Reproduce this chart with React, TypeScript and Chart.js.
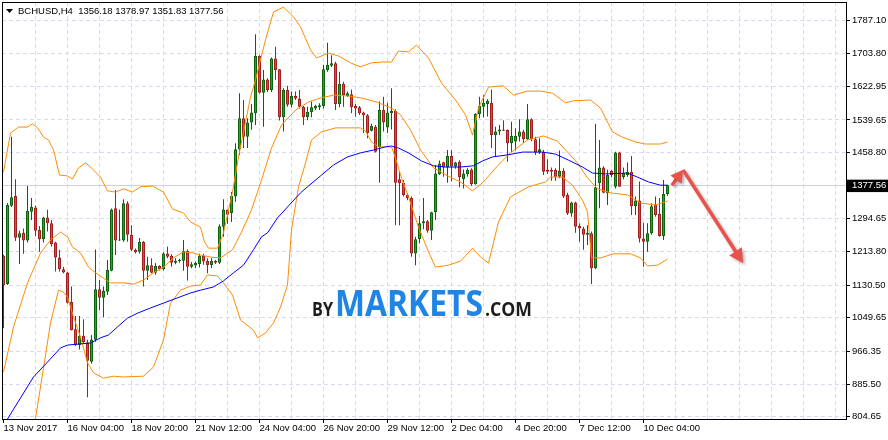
import React, { useEffect, useRef } from 'react';
import { Chart, registerables } from 'chart.js';

Chart.register(...registerables);

// ---------- data ----------
const symbolTitle = 'BCHUSD,H4';
const lastOHLC = ['1356.18', '1378.97', '1351.83', '1377.56'];
const currentPrice = 1377.56;

const opens = [
  1203, 1133, 1327, 1351, 1248, 1260, 1241, 1312, 1323, 1267,
  1244, 1298, 1284, 1236, 1199, 1170, 1162, 1089, 1021, 982,
  1005, 989, 941, 995, 1120, 1099, 1114, 1166, 1321, 1241,
  1241, 1333, 1255, 1218, 1213, 1237, 1166, 1180, 1161, 1178,
  1170, 1209, 1203, 1186, 1190, 1191, 1215, 1176, 1179, 1183,
  1203, 1190, 1180, 1191, 1186, 1275, 1317, 1309, 1350, 1467,
  1544, 1498, 1533, 1556, 1698, 1607, 1640, 1614, 1692, 1665,
  1546, 1614, 1577, 1599, 1593, 1572, 1546, 1559, 1568, 1571,
  1574, 1663, 1674, 1680, 1579, 1629, 1599, 1603, 1574, 1571,
  1558, 1551, 1513, 1523, 1472, 1564, 1521, 1556, 1562, 1393,
  1384, 1354, 1346, 1209, 1244, 1284, 1289, 1265, 1311, 1405,
  1435, 1422, 1450, 1424, 1436, 1393, 1405, 1417, 1381, 1554,
  1572, 1579, 1582, 1502, 1511, 1516, 1515, 1482, 1486, 1498,
  1511, 1492, 1541, 1492, 1459, 1461, 1417, 1416, 1416, 1399,
  1414, 1354, 1308, 1335, 1277, 1271, 1255, 1259, 1172, 1383,
  1422, 1358, 1414, 1374, 1459, 1398, 1403, 1411, 1326, 1340,
  1246, 1238, 1259, 1329, 1307, 1252, 1356.18,
];
const highs = [
  1206, 1334, 1498, 1393, 1265, 1271, 1376, 1346, 1327, 1277,
  1300, 1317, 1292, 1238, 1218, 1176, 1163, 1127, 1054, 1054,
  1046, 995, 1007, 1219, 1143, 1127, 1193, 1320, 1366, 1318,
  1343, 1338, 1279, 1221, 1247, 1240, 1201, 1197, 1185, 1180,
  1212, 1226, 1207, 1197, 1196, 1242, 1219, 1188, 1189, 1208,
  1208, 1197, 1197, 1193, 1281, 1343, 1318, 1361, 1482, 1606,
  1589, 1544, 1579, 1752, 1700, 1663, 1643, 1694, 1721, 1666,
  1618, 1624, 1610, 1610, 1614, 1574, 1572, 1585, 1577, 1581,
  1676, 1731, 1700, 1684, 1659, 1634, 1610, 1615, 1579, 1574,
  1560, 1554, 1530, 1527, 1585, 1597, 1582, 1618, 1566, 1411,
  1391, 1358, 1350, 1250, 1302, 1346, 1292, 1312, 1428, 1439,
  1436, 1465, 1465, 1436, 1440, 1417, 1420, 1420, 1556, 1597,
  1601, 1591, 1615, 1523, 1527, 1539, 1516, 1535, 1519, 1541,
  1515, 1579, 1544, 1498, 1494, 1465, 1442, 1422, 1420, 1464,
  1420, 1359, 1337, 1337, 1284, 1275, 1279, 1263, 1530, 1490,
  1425, 1416, 1416, 1461, 1461, 1422, 1434, 1450, 1350, 1387,
  1285, 1284, 1333, 1350, 1346, 1391, 1378.97,
];
const lows = [
  1024, 1131, 1324, 1240, 1183, 1208, 1236, 1292, 1252, 1213,
  1236, 1263, 1226, 1164, 1164, 1160, 1085, 1018, 980, 971,
  986, 853, 936, 990, 1069, 1051, 1106, 1165, 1205, 1240,
  1238, 1238, 1215, 1209, 1209, 1127, 1143, 1160, 1156, 1167,
  1167, 1197, 1176, 1182, 1186, 1166, 1142, 1172, 1173, 1174,
  1181, 1160, 1173, 1183, 1183, 1250, 1282, 1287, 1337, 1453,
  1470, 1470, 1515, 1527, 1605, 1523, 1609, 1609, 1639, 1538,
  1511, 1572, 1571, 1589, 1568, 1527, 1539, 1546, 1564, 1564,
  1568, 1659, 1671, 1564, 1571, 1572, 1597, 1556, 1548, 1552,
  1507, 1494, 1511, 1459, 1384, 1511, 1507, 1516, 1279, 1279,
  1350, 1341, 1201, 1180, 1234, 1269, 1260, 1242, 1292, 1403,
  1399, 1384, 1387, 1419, 1373, 1370, 1399, 1376, 1379, 1544,
  1546, 1548, 1470, 1450, 1502, 1512, 1436, 1461, 1464, 1486,
  1483, 1490, 1487, 1453, 1455, 1403, 1406, 1389, 1389, 1395,
  1346, 1304, 1300, 1260, 1238, 1218, 1230, 1133, 1170, 1321,
  1358, 1329, 1398, 1370, 1374, 1393, 1399, 1304, 1304, 1236,
  1176, 1213, 1255, 1300, 1250, 1242, 1351.83,
];
const closes = [
  1131, 1329, 1348, 1248, 1259, 1241, 1314, 1324, 1265, 1244,
  1298, 1284, 1232, 1199, 1170, 1162, 1087, 1019, 982, 1005,
  989, 943, 996, 1120, 1099, 1116, 1168, 1318, 1241, 1243,
  1333, 1255, 1218, 1212, 1237, 1166, 1180, 1161, 1178, 1170,
  1209, 1201, 1186, 1190, 1193, 1215, 1176, 1182, 1185, 1203,
  1189, 1180, 1191, 1186, 1276, 1318, 1305, 1351, 1467, 1544,
  1498, 1533, 1558, 1698, 1607, 1640, 1614, 1692, 1663, 1546,
  1614, 1577, 1599, 1593, 1572, 1546, 1559, 1571, 1574, 1576,
  1665, 1676, 1680, 1579, 1629, 1601, 1606, 1571, 1568, 1556,
  1551, 1507, 1525, 1461, 1564, 1533, 1558, 1562, 1384, 1383,
  1354, 1346, 1209, 1244, 1284, 1289, 1265, 1311, 1407, 1432,
  1422, 1450, 1424, 1434, 1398, 1407, 1416, 1381, 1554, 1574,
  1582, 1587, 1502, 1511, 1516, 1513, 1482, 1500, 1500, 1511,
  1492, 1541, 1492, 1459, 1467, 1411, 1411, 1411, 1399, 1414,
  1350, 1308, 1335, 1275, 1271, 1255, 1260, 1172, 1373, 1422,
  1359, 1403, 1403, 1459, 1374, 1409, 1411, 1326, 1340, 1246,
  1238, 1259, 1326, 1304, 1252, 1356.18, 1377.56,
];

// Bollinger upper band (bar index, price)
const upperIdx = [0, 1.75, 3.75, 6, 7.25, 8.5, 10, 11.25, 12.5, 14, 16, 17.25, 18.75, 20.5, 21.75, 24.25, 26, 28, 30, 32.25, 34.25, 37.25, 40, 42.25, 45, 46.75, 49.25, 50.25, 51.25, 53.5, 55, 57.25, 58.75, 61.75, 63, 65.5, 67.5, 70, 72.5, 74.25, 76.75, 78.25, 81.25, 83.75, 86.75, 89.25, 92, 94.5, 97, 98.75, 101.25, 103.25, 106.25, 109.5, 113, 115.5, 117.25, 118.75, 121.25, 125, 127.5, 131, 134.25, 137.25, 140.5, 142.5, 146.75, 149.25, 152.25, 154.75, 158, 160.5, 164.25, 166];
const upperVal = [1411, 1507, 1522, 1522, 1530, 1520, 1497, 1490, 1465, 1403, 1401, 1393, 1421, 1433, 1423, 1398, 1364, 1361, 1369, 1361, 1374, 1376, 1361, 1319, 1309, 1287, 1274, 1237, 1222, 1222, 1260, 1361, 1448, 1596, 1639, 1738, 1807, 1819, 1795, 1770, 1713, 1693, 1705, 1698, 1681, 1671, 1681, 1683, 1683, 1710, 1708, 1725, 1693, 1631, 1589, 1552, 1502, 1569, 1621, 1624, 1601, 1611, 1611, 1606, 1582, 1587, 1589, 1569, 1510, 1497, 1485, 1480, 1480, 1485];

// Bollinger middle band
const midIdx = [0, 2.5, 6, 9.25, 11.75, 14.25, 16, 17.25, 19.25, 21.25, 23, 25, 26.75, 30, 32.5, 35, 37.5, 40, 42.5, 45, 47.5, 49.25, 51.75, 54.25, 57.25, 59.5, 62, 64.5, 67, 69.5, 73, 76.25, 79.25, 82.5, 86, 89.5, 93.25, 97, 99.25, 101.75, 104.25, 107.5, 111, 114.25, 117.25, 120, 123.5, 126.75, 131, 135, 138.5, 141, 143.5, 146, 148.5, 151.75, 156, 159.25, 163, 166];
const midVal = [915, 1027, 1136, 1210, 1242, 1262, 1250, 1225, 1210, 1175, 1161, 1148, 1136, 1136, 1133, 1143, 1161, 1175, 1198, 1213, 1210, 1205, 1200, 1198, 1218, 1262, 1317, 1391, 1470, 1527, 1564, 1584, 1594, 1601, 1599, 1594, 1584, 1569, 1552, 1515, 1465, 1421, 1401, 1386, 1364, 1386, 1426, 1458, 1490, 1500, 1487, 1460, 1433, 1396, 1369, 1359, 1354, 1334, 1329, 1339];

// Bollinger lower band
const lowIdx = [0, 4, 7, 8, 10, 11.75, 13.75, 15, 16, 17.5, 19.25, 21, 22.5, 25, 27.5, 30, 35, 37.5, 40, 41.75, 44.25, 46.75, 49.25, 51, 53.5, 55, 57.25, 59.25, 62.5, 63.5, 65.5, 67.5, 69.25, 71, 72, 73.75, 75.5, 77, 79.5, 83, 87, 89.25, 90.5, 92, 93.75, 97, 98, 99.5, 101.25, 103.75, 106.25, 108, 111.25, 114.25, 117.25, 119.25, 121.25, 123.75, 126.75, 131.25, 135.5, 136.75, 139.75, 142.25, 144.75, 146, 147, 149.25, 152.5, 156.75, 159.25, 161, 163.5, 166];
const lowVal = [420, 598, 735, 801, 925, 1037, 1118, 1113, 1101, 1052, 1002, 938, 913, 900, 905, 903, 905, 928, 995, 1086, 1118, 1128, 1131, 1156, 1153, 1136, 1106, 1044, 1019, 1000, 1012, 1037, 1076, 1131, 1267, 1374, 1433, 1490, 1510, 1520, 1520, 1520, 1512, 1485, 1473, 1473, 1445, 1396, 1349, 1274, 1213, 1175, 1180, 1190, 1222, 1200, 1185, 1287, 1349, 1374, 1386, 1398, 1398, 1378, 1341, 1312, 1198, 1198, 1208, 1208, 1198, 1178, 1180, 1195];

// Moving average (blue)
const maIdx = [0, 1, 4.25, 7.5, 11, 14.25, 16, 19.25, 21.75, 24.25, 26.25, 28.5, 31, 33.5, 36.75, 40, 43.5, 46.75, 49.25, 52.5, 55, 57.5, 60, 62.5, 64.5, 66, 68.5, 71, 74.25, 76, 79.25, 82.5, 86, 89.25, 92.5, 95.5, 97, 98.75, 101.25, 104.5, 107.5, 110.5, 114.25, 117.5, 119.75, 122.25, 126, 129.75, 134.75, 138, 141.25, 144.75, 147.25, 150.5, 156, 158.5, 161.25, 164.25, 166];
const maVal = [784, 799, 851, 903, 940, 975, 982, 985, 987, 1000, 1007, 1027, 1049, 1061, 1074, 1086, 1099, 1111, 1118, 1126, 1141, 1161, 1180, 1218, 1250, 1260, 1297, 1324, 1359, 1374, 1401, 1428, 1448, 1458, 1465, 1473, 1475, 1470, 1458, 1438, 1426, 1423, 1423, 1426, 1438, 1448, 1453, 1460, 1460, 1455, 1440, 1423, 1408, 1406, 1408, 1398, 1386, 1378, 1378];

// Axis ticks
const yTickValues = [804.65, 885.5, 966.35, 1049.65, 1130.5, 1213.8, 1294.65, 1377.56, 1458.8, 1539.65, 1622.95, 1703.8, 1787.1];
const xTickIdx = [0, 8, 16, 24, 32, 40, 48, 56, 64, 72, 80, 88, 96, 104, 112, 120, 128, 136, 144, 152, 160, 168, 176, 184, 192, 200, 208];
const xLabelIdx = [0, 16, 32, 48, 64, 80, 96, 112, 128, 144, 160];
const xLabels = ['13 Nov 2017', '16 Nov 04:00', '18 Nov 20:00', '21 Nov 12:00', '24 Nov 04:00', '26 Nov 20:00', '29 Nov 12:00', '2 Dec 04:00', '4 Dec 20:00', '7 Dec 12:00', '10 Dec 04:00'];
const xMin = -0.375;
const xMax = 210.625;
const yMin = 798.95;
const yMax = 1831.68;

// Forecast arrow (bar index, price)
const arrowIdx = [167.1, 169.9, 184.9];
const arrowVal = [1378, 1416, 1185];

// Watermark parts
const wmTexts = ['BY', 'MARKETS', '.COM'];

// ---------- styles ----------
const FONT = '"Liberation Sans", Arial, sans-serif';
const GRID = '#d9d9f0';
const ORANGE = '#ff8c00';
const BLUE = '#0000ff';
const UP_FILL = '#22a822';
const UP_LINE = '#0b640b';
const DN_FILL = '#e6453c';
const DN_LINE = '#a31f1f';
const ARROW = '#e8524a';

function arrowHead(ctx: CanvasRenderingContext2D, x0: number, y0: number, x1: number, y1: number, len: number, half: number) {
  const a = Math.atan2(y1 - y0, x1 - x0);
  const c = Math.cos(a), s = Math.sin(a);
  ctx.beginPath();
  ctx.moveTo(x1, y1);
  ctx.lineTo(x1 - len * c + half * s, y1 - len * s - half * c);
  ctx.lineTo(x1 - len * c - half * s, y1 - len * s + half * c);
  ctx.closePath();
  ctx.fill();
}

const decorPlugin = {
  id: 'decor',
  beforeDatasetsDraw(chart: any) {
    const { ctx, chartArea, scales } = chart;
    ctx.save();
    // current price line
    const py = Math.round(scales.y.getPixelForValue(currentPrice)) + 0.5;
    ctx.strokeStyle = '#cfcfec';
    ctx.lineWidth = 1;
    ctx.beginPath();
    ctx.moveTo(chartArea.left, py);
    ctx.lineTo(chartArea.right, py);
    ctx.stroke();
    // watermark
    const sizes = [19, 35, 19];
    const widths = [21, 148, 47];
    const colors = ['#1c1c1c', '#1f84e3', '#1c1c1c'];
    let x = chartArea.left + 310;
    const base = chartArea.top + 314;
    ctx.textAlign = 'left';
    ctx.textBaseline = 'alphabetic';
    wmTexts.forEach((t, k) => {
      ctx.font = `bold ${sizes[k]}px "Open Sans", "Liberation Sans", sans-serif`;
      const m = ctx.measureText(t).width;
      ctx.save();
      ctx.translate(x, base);
      ctx.scale(widths[k] / m, 1);
      ctx.fillStyle = colors[k];
      ctx.fillText(t, 0, 0);
      ctx.restore();
      x += widths[k] + 2;
    });
    ctx.restore();
  },
  afterDraw(chart: any) {
    const { ctx, chartArea, scales } = chart;
    const { left, top, right, bottom } = chartArea;
    ctx.save();
    // frame
    ctx.strokeStyle = '#000';
    ctx.lineWidth = 1;
    ctx.strokeRect(left + 0.5, top + 0.5, right - left, bottom - top);
    // title
    ctx.fillStyle = '#000';
    ctx.beginPath();
    ctx.moveTo(left + 4, top + 7);
    ctx.lineTo(left + 11, top + 7);
    ctx.lineTo(left + 7.5, top + 11);
    ctx.closePath();
    ctx.fill();
    ctx.font = `9.5px ${FONT}`;
    ctx.textBaseline = 'middle';
    ctx.textAlign = 'left';
    ctx.fillText(symbolTitle + '  ' + lastOHLC.join(' '), left + 16, top + 9);
    // arrow
    const pts = arrowIdx.map((v, k) => [scales.x.getPixelForValue(v), scales.y.getPixelForValue(arrowVal[k])]);
    ctx.shadowColor = 'rgba(0,0,0,0.3)';
    ctx.shadowBlur = 3;
    ctx.shadowOffsetX = 2;
    ctx.shadowOffsetY = 2;
    ctx.strokeStyle = ARROW;
    ctx.fillStyle = ARROW;
    ctx.lineWidth = 3.5;
    ctx.lineCap = 'butt';
    const seg = (a: number[], b: number[], len: number, half: number) => {
      const dx = b[0] - a[0], dy = b[1] - a[1];
      const d = Math.hypot(dx, dy);
      ctx.beginPath();
      ctx.moveTo(a[0], a[1]);
      ctx.lineTo(b[0] - (dx / d) * (len - 2), b[1] - (dy / d) * (len - 2));
      ctx.stroke();
      arrowHead(ctx, a[0], a[1], b[0], b[1], len, half);
    };
    seg(pts[0], pts[1], 12, 7);
    seg(pts[1], pts[2], 14, 7.5);
    ctx.restore();
  },
};

export default function App() {
  const ref = useRef<HTMLCanvasElement>(null);
  useEffect(() => {
    document.body.style.margin = '0';
    const n = opens.length;
    const idx = Array.from({ length: n }, (_, i) => i);
    const up = idx.map((i) => closes[i] >= opens[i]);
    const line = (xs: number[], ys: number[], color: string) => ({
      type: 'line' as const,
      data: xs.map((x, k) => ({ x, y: ys[k] })),
      borderColor: color,
      borderWidth: 1,
      pointRadius: 0,
      tension: 0,
      fill: false,
      order: -1,
    });
    const chart = new Chart(ref.current as HTMLCanvasElement, {
      type: 'bar',
      data: {
        datasets: [
          line(maIdx, maVal, BLUE),
          line(upperIdx, upperVal, ORANGE),
          line(midIdx, midVal, ORANGE),
          line(lowIdx, lowVal, ORANGE),
          {
            type: 'bar',
            data: idx.map((i) => ({ x: i, y: [lows[i], highs[i]] })),
            backgroundColor: idx.map((i) => (up[i] ? UP_LINE : DN_LINE)),
            borderWidth: 0,
            barThickness: 1,
            grouped: false,
            inflateAmount: 0,
            order: 2,
          } as any,
          {
            type: 'bar',
            data: idx.map((i) => ({ x: i, y: [opens[i], closes[i]] })),
            backgroundColor: idx.map((i) => (up[i] ? UP_FILL : DN_FILL)),
            borderColor: idx.map((i) => (up[i] ? UP_LINE : DN_LINE)),
            borderWidth: 1,
            borderSkipped: false,
            barThickness: 3,
            grouped: false,
            inflateAmount: 0,
            minBarLength: 1,
            order: 1,
          } as any,
        ],
      },
      options: {
        responsive: false,
        devicePixelRatio: 1,
        animation: false,
        events: [],
        layout: { padding: { left: 2, top: 2, right: 0, bottom: 0 } },
        plugins: { legend: { display: false }, tooltip: { enabled: false } },
        scales: {
          x: {
            type: 'linear',
            min: xMin,
            max: xMax,
            offset: false,
            afterBuildTicks: (s: any) => {
              s.ticks = xTickIdx.map((v) => ({ value: v }));
            },
            afterFit: (s: any) => {
              s.height = 21;
              s.paddingLeft = 0;
              s.paddingRight = 0;
            },
            grid: {
              offset: false,
              color: (c: any) => (c.tick && c.tick.value === 0 ? 'rgba(0,0,0,0)' : GRID),
              lineWidth: 1,
              drawTicks: true,
              tickLength: 4,
              tickColor: (c: any) => (c.tick && xLabelIdx.includes(c.tick.value) ? '#000' : 'rgba(0,0,0,0)'),
              tickBorderDash: [],
            },
            border: { display: false, dash: [4, 3] },
            ticks: {
              autoSkip: false,
              maxRotation: 0,
              minRotation: 0,
              align: 'start',
              padding: 0,
              color: '#000',
              font: { family: FONT, size: 9.5 },
              callback: (v: any) => {
                const k = xLabelIdx.indexOf(Number(v));
                return k >= 0 ? xLabels[k] : '';
              },
            },
          },
          y: {
            type: 'linear',
            position: 'right',
            min: yMin,
            max: yMax,
            afterBuildTicks: (s: any) => {
              s.ticks = yTickValues.map((v) => ({ value: v }));
            },
            afterFit: (s: any) => {
              s.width = 42;
              s.paddingTop = 0;
              s.paddingBottom = 0;
            },
            grid: {
              color: (c: any) => (c.tick && c.tick.value === currentPrice ? 'rgba(0,0,0,0)' : GRID),
              lineWidth: 1,
              drawTicks: true,
              tickLength: 4,
              tickColor: '#000',
              tickBorderDash: [],
            },
            border: { display: false, dash: [4, 3] },
            ticks: {
              padding: 2,
              color: (c: any) => (c.tick && c.tick.value === currentPrice ? '#fff' : '#000'),
              font: { family: FONT, size: 9.5 },
              callback: (v: any) => Number(v).toFixed(2),
              showLabelBackdrop: (c: any) => !!(c.tick && c.tick.value === currentPrice),
              backdropColor: '#000',
              backdropPadding: { left: 5, right: 4, top: 0, bottom: 1 },
            },
          },
        },
      } as any,
      plugins: [decorPlugin],
    });
    return () => chart.destroy();
  }, []);
  return (
    <div style={{ position: 'fixed', left: 0, top: 0, width: 888, height: 440, background: '#fff' }}>
      <canvas ref={ref} width={888} height={440} style={{ display: 'block', width: 888, height: 440 }} />
    </div>
  );
}
